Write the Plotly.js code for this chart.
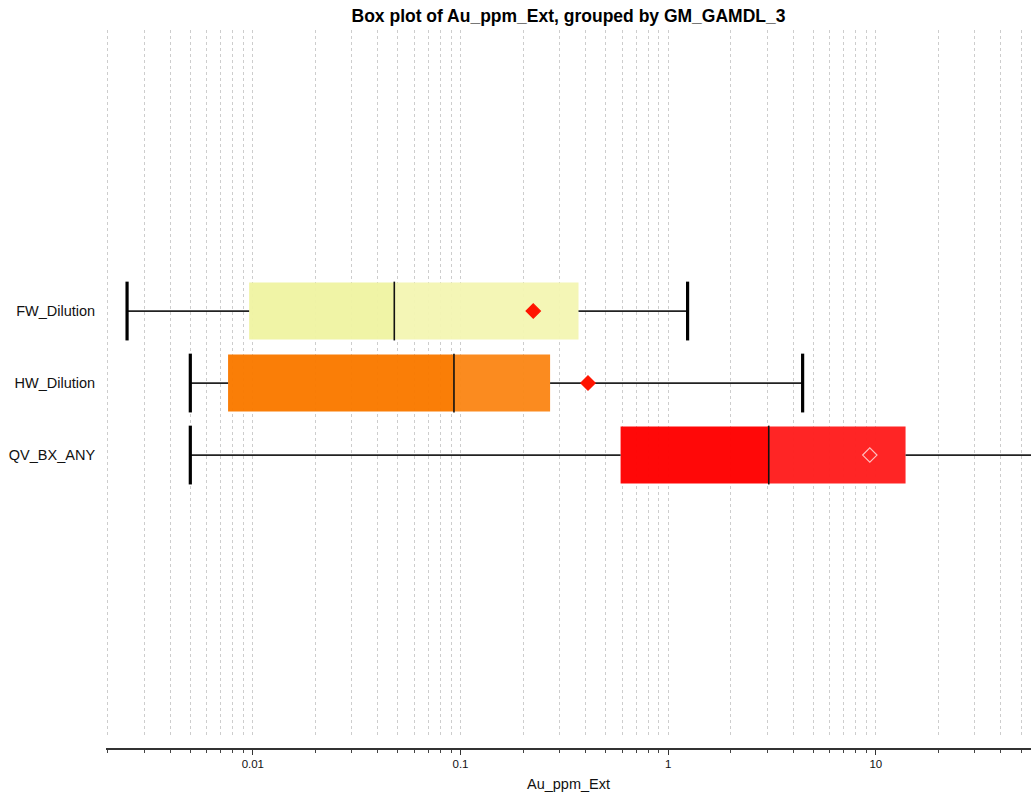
<!DOCTYPE html>
<html>
<head>
<meta charset="utf-8">
<script src="https://cdn.plot.ly/plotly-3.0.1.min.js"></script>
<style>html,body{margin:0;padding:0;background:#fff;}#chart{width:1031px;height:794px;}</style>
</head>
<body>
<div id="chart"></div>
<script>
const categories = ['FW_Dilution', 'HW_Dilution', 'QV_BX_ANY'];
const whiskerLow = [0.00248, 0.0050, 0.0050];
const q1 = [0.0096, 0.0076, 0.59];
const median = [0.048, 0.093, 3.05];
const q3 = [0.37, 0.27, 13.9];
const whiskerHigh = [1.24, 4.44, 90];
const mean = [0.224, 0.411, 9.35];
const lowerColors = ['rgb(240,244,164)', 'rgb(250,122,0)', 'rgb(255,0,0)'];
const upperColors = ['rgb(244,246,180)', 'rgb(251,136,24)', 'rgb(255,30,30)'];
const meanFill = ['rgb(255,20,0)', 'rgb(255,20,0)', 'rgba(0,0,0,0)'];
const meanLine = ['rgb(255,20,0)', 'rgb(255,20,0)', 'rgb(255,190,190)'];
const majorTicks = [0.01, 0.1, 1, 10];
const majorLabels = ['0.01', '0.1', '1', '10'];

const minorTicks = [];
[0.001, 0.01, 0.1, 1, 10].forEach(d => { for (let k = 2; k <= 9; k++) minorTicks.push(+(d * k).toPrecision(3)); });
const gridVals = minorTicks.concat(majorTicks);

const BOXW = 0.79;
const traces = [];
traces.push({type: 'scatter', x: [0.01], y: [categories[0]], xaxis: 'x2', yaxis: 'y', mode: 'markers', marker: {opacity: 0}, hoverinfo: 'skip'});
traces.push({
  type: 'bar', orientation: 'h', y: categories, base: q1,
  x: q1.map((v, i) => median[i] - v), width: BOXW,
  marker: {color: lowerColors, line: {width: 0}}, opacity: 0.97, hoverinfo: 'skip'
});
traces.push({
  type: 'bar', orientation: 'h', y: categories, base: median,
  x: median.map((v, i) => q3[i] - v), width: BOXW,
  marker: {color: upperColors, line: {width: 0}}, opacity: 0.97, hoverinfo: 'skip'
});
const wx = [], wy = [];
categories.forEach((c, i) => {
  wx.push(whiskerLow[i], q1[i], null, q3[i], whiskerHigh[i], null);
  wy.push(c, c, null, c, c, null);
});
traces.push({type: 'scatter', mode: 'lines', x: wx, y: wy, line: {color: '#222', width: 1.8}, hoverinfo: 'skip'});
traces.push({
  type: 'scatter', mode: 'markers', x: whiskerLow.concat(whiskerHigh), y: categories.concat(categories),
  marker: {symbol: 'line-ns', size: 42, line: {color: '#000', width: 3.2}}, hoverinfo: 'skip'
});
traces.push({
  type: 'scatter', mode: 'markers', x: median, y: categories,
  marker: {symbol: 'line-ns', size: 42, line: {color: '#111', width: 1.6}}, hoverinfo: 'skip'
});
traces.push({
  type: 'scatter', mode: 'markers', x: mean, y: categories,
  marker: {symbol: 'diamond', size: 11, color: meanFill, line: {color: meanLine, width: 1.2}}, hoverinfo: 'skip'
});

const xr = [Math.log10(0.002) - 0.008, 1.747];
const layout = {
  width: 1031, height: 794,
  margin: {l: 106, r: 0, t: 30, b: 46},
  paper_bgcolor: '#fff', plot_bgcolor: 'rgba(0,0,0,0)',
  showlegend: false, barmode: 'overlay',
  font: {family: 'Liberation Sans, Arial, sans-serif', color: '#111'},
  title: {text: '<b>Box plot of Au_ppm_Ext, grouped by GM_GAMDL_3</b>', x: 0.5, xref: 'paper', y: 0.98, yref: 'container', yanchor: 'middle',
          font: {size: 17.5, color: '#000', family: 'Liberation Sans, Arial, sans-serif'}},
  xaxis: {
    type: 'log', range: xr, anchor: 'free', position: 0,
    showgrid: false, zeroline: false,
    showline: true, linecolor: '#333', linewidth: 1.5,
    tickmode: 'array', tickvals: majorTicks, ticktext: majorLabels,
    ticks: 'outside', ticklen: 5, tickwidth: 1.2, tickcolor: '#333',
    tickfont: {size: 11.5, color: '#111'},
    minor: {tickmode: 'array', tickvals: minorTicks, ticks: 'outside', ticklen: 3, tickwidth: 1, tickcolor: '#444', showgrid: false},
    title: {text: 'Au_ppm_Ext', font: {size: 14.5, color: '#111'}, standoff: 9}
  },
  xaxis2: {
    type: 'log', range: xr, overlaying: 'x', anchor: 'y', side: 'bottom',
    showline: false, zeroline: false, showticklabels: false, ticks: '',
    tickmode: 'array', tickvals: gridVals,
    showgrid: true, gridcolor: '#cdcdcd', gridwidth: 1, griddash: 'dot'
  },
  yaxis: {
    type: 'category', domain: [0.018, 1], range: [5.889, -3.903],
    showgrid: false, zeroline: false, showline: false,
    ticks: 'outside', ticklen: 7, tickcolor: 'rgba(0,0,0,0)',
    tickfont: {size: 14.5, color: '#111'}
  }
};
Plotly.newPlot('chart', traces, layout, {displayModeBar: false, staticPlot: true});
</script>
</body>
</html>
